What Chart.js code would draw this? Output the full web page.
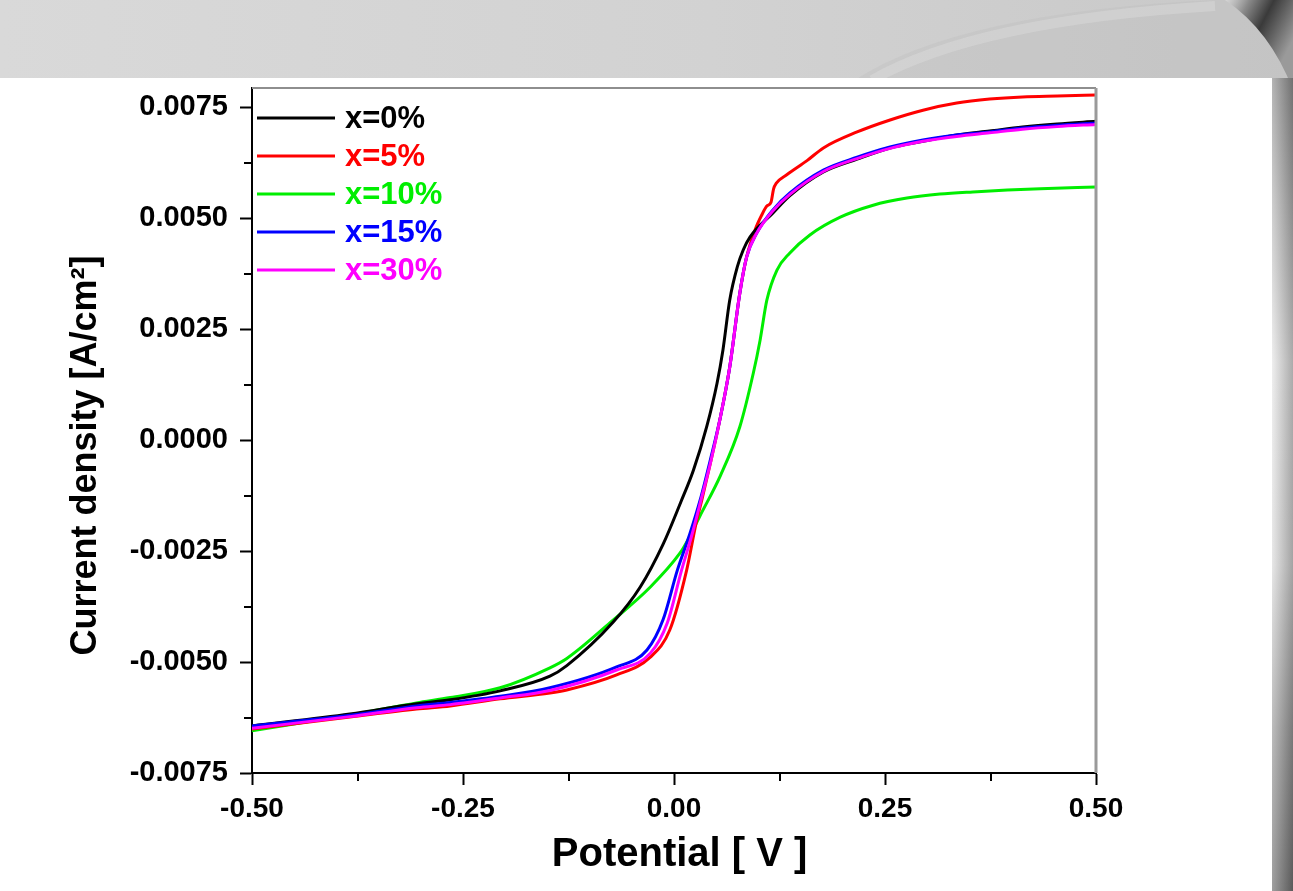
<!DOCTYPE html>
<html>
<head>
<meta charset="utf-8">
<script src="https://cdn.jsdelivr.net/npm/chart.js@4.4.1/dist/chart.umd.min.js"></script>
<style>
  html, body { margin: 0; padding: 0; background: #ffffff; overflow: hidden; }
  canvas { display: block; }
</style>
</head>
<body>
<canvas id="polarization" width="1293" height="891"></canvas>
<script>
// Linear sweep curves: potential (V) vs current density (A/cm^2)
const seriesNames  = ['x=0%', 'x=5%', 'x=10%', 'x=15%', 'x=30%'];
const seriesColors = ['#000000', '#ff0000', '#00ee00', '#0000ff', '#ff00ff'];

const potential0 = [-0.5, -0.384, -0.305, -0.265, -0.206, -0.147, -0.127, -0.072, -0.040, -0.013, 0.008, 0.023, 0.039, 0.051, 0.058, 0.066, 0.075, 0.082, 0.090, 0.117, 0.137, 0.177, 0.217, 0.256, 0.295, 0.335, 0.374, 0.413, 0.454, 0.5];
const current0   = [-0.00644, -0.00617, -0.00594, -0.00585, -0.00565, -0.00532, -0.00508, -0.00410, -0.00331, -0.00235, -0.00140, -0.00068, 0.00032, 0.00128, 0.00203, 0.00315, 0.00390, 0.00428, 0.00457, 0.00511, 0.00550, 0.00604, 0.00633, 0.00658, 0.00673, 0.00687, 0.00696, 0.00705, 0.00712, 0.00718];

const potential5 = [-0.5, -0.384, -0.305, -0.265, -0.206, -0.147, -0.127, -0.068, -0.028, -0.005, 0.015, 0.027, 0.033, 0.044, 0.055, 0.066, 0.078, 0.086, 0.096, 0.104, 0.110, 0.115, 0.118, 0.121, 0.134, 0.158, 0.177, 0.217, 0.256, 0.295, 0.335, 0.374, 0.413, 0.454, 0.5];
const current5   = [-0.00651, -0.00624, -0.00606, -0.00599, -0.00583, -0.00570, -0.00563, -0.00529, -0.00489, -0.00428, -0.00293, -0.00180, -0.00135, -0.00045, 0.00052, 0.00164, 0.00331, 0.00412, 0.00473, 0.00507, 0.00527, 0.00536, 0.00566, 0.00578, 0.00598, 0.00630, 0.00658, 0.00694, 0.00721, 0.00743, 0.00759, 0.00768, 0.00773, 0.00775, 0.00777];

const potential10 = [-0.5, -0.384, -0.305, -0.265, -0.206, -0.147, -0.127, -0.076, -0.028, 0.007, 0.015, 0.031, 0.055, 0.078, 0.094, 0.102, 0.110, 0.122, 0.137, 0.161, 0.197, 0.236, 0.276, 0.315, 0.354, 0.395, 0.434, 0.5];
const current10   = [-0.00655, -0.00619, -0.00592, -0.00580, -0.00558, -0.00513, -0.00492, -0.00412, -0.00331, -0.00255, -0.00230, -0.00170, -0.00080, 0.00030, 0.00151, 0.00225, 0.00315, 0.00383, 0.00421, 0.00462, 0.00502, 0.00529, 0.00545, 0.00554, 0.00559, 0.00563, 0.00566, 0.00570];

const potential15 = [-0.5, -0.384, -0.305, -0.265, -0.206, -0.147, -0.068, -0.032, -0.013, 0.004, 0.019, 0.031, 0.043, 0.055, 0.066, 0.078, 0.086, 0.098, 0.117, 0.137, 0.177, 0.217, 0.256, 0.295, 0.335, 0.374, 0.413, 0.454, 0.5];
const current15   = [-0.00644, -0.00620, -0.00599, -0.00591, -0.00577, -0.00558, -0.00511, -0.00473, -0.00405, -0.00293, -0.00210, -0.00135, -0.00045, 0.00052, 0.00164, 0.00331, 0.00412, 0.00466, 0.00518, 0.00556, 0.00608, 0.00637, 0.00660, 0.00676, 0.00687, 0.00694, 0.00703, 0.00709, 0.00714];

const potential30 = [-0.5, -0.384, -0.305, -0.265, -0.206, -0.147, -0.068, -0.028, -0.008, 0.009, 0.021, 0.032, 0.044, 0.055, 0.066, 0.078, 0.086, 0.098, 0.117, 0.137, 0.177, 0.217, 0.256, 0.295, 0.335, 0.374, 0.413, 0.454, 0.5];
const current30   = [-0.00649, -0.00623, -0.00603, -0.00596, -0.00581, -0.00564, -0.00518, -0.00480, -0.00412, -0.00293, -0.00215, -0.00135, -0.00045, 0.00052, 0.00164, 0.00331, 0.00412, 0.00466, 0.00516, 0.00553, 0.00605, 0.00634, 0.00657, 0.00673, 0.00684, 0.00692, 0.00700, 0.00706, 0.00711];

const xTickValues = [-0.5, -0.25, 0, 0.25, 0.5];
const xTickLabels = ['-0.50', '-0.25', '0.00', '0.25', '0.50'];
const yTickValues = [-0.0075, -0.005, -0.0025, 0, 0.0025, 0.005, 0.0075];
const yTickLabels = ['-0.0075', '-0.0050', '-0.0025', '0.0000', '0.0025', '0.0050', '0.0075'];

const potentials = [potential0, potential5, potential10, potential15, potential30];
const currents   = [current0, current5, current10, current15, current30];
// stacking: lower number is painted on top
const stackOrder = [2, 3, 4, 1, 0];

const FONT = "'Liberation Sans', Arial, Helvetica, sans-serif";

const datasets = seriesNames.map((name, i) => ({
  label: name,
  data: potentials[i].map((v, k) => ({ x: v, y: currents[i][k] })),
  borderColor: seriesColors[i],
  backgroundColor: seriesColors[i],
  borderWidth: 3,
  pointRadius: 0,
  fill: false,
  cubicInterpolationMode: 'monotone',
  order: stackOrder[i]
}));

// grey slide backdrop with a white panel behind the plot
const backdrop = {
  id: 'backdrop',
  beforeDraw(chart) {
    const ctx = chart.ctx, W = chart.width, H = chart.height;
    ctx.save();
    let g = ctx.createLinearGradient(0, 0, W, 0);
    g.addColorStop(0, '#d9d9d9');
    g.addColorStop(0.55, '#d2d2d2');
    g.addColorStop(1, '#c8c8c8');
    ctx.fillStyle = g;
    ctx.fillRect(0, 0, W, H);

    // faint swirl in the header band
    ctx.fillStyle = 'rgba(190,190,190,0.35)';
    ctx.beginPath();
    ctx.moveTo(855, 80);
    ctx.quadraticCurveTo(960, 12, 1215, 0);
    ctx.lineTo(W, 0);
    ctx.lineTo(W, 80);
    ctx.closePath();
    ctx.fill();
    ctx.strokeStyle = 'rgba(225,225,225,0.35)';
    ctx.lineWidth = 10;
    ctx.beginPath();
    ctx.moveTo(872, 80);
    ctx.quadraticCurveTo(978, 20, 1215, 6);
    ctx.stroke();

    // dark sweep in the top-right corner
    g = ctx.createLinearGradient(1215, 0, 1293, 40);
    g.addColorStop(0, 'rgba(255,255,255,0.6)');
    g.addColorStop(0.35, '#8a8a8a');
    g.addColorStop(0.6, '#3a3a3a');
    g.addColorStop(1, '#9a9a9a');
    ctx.fillStyle = g;
    ctx.beginPath();
    ctx.moveTo(1225, 0);
    ctx.lineTo(W, 0);
    ctx.lineTo(W, 90);
    ctx.quadraticCurveTo(1270, 30, 1225, 0);
    ctx.closePath();
    ctx.fill();

    // right edge strip
    g = ctx.createLinearGradient(0, 78, 0, H);
    g.addColorStop(0, '#8c8c8c');
    g.addColorStop(0.15, '#b4b4b4');
    g.addColorStop(0.35, '#e6e6e6');
    g.addColorStop(0.6, '#dadada');
    g.addColorStop(0.8, '#9a9a9a');
    g.addColorStop(1, '#6a6a6a');
    ctx.fillStyle = g;
    ctx.fillRect(1272, 78, W - 1272, H - 78);
    g = ctx.createLinearGradient(1272, 0, W, 0);
    g.addColorStop(0, 'rgba(255,255,255,0.35)');
    g.addColorStop(1, 'rgba(60,60,60,0.35)');
    ctx.fillStyle = g;
    ctx.fillRect(1272, 78, W - 1272, H - 78);

    // white panel
    ctx.fillStyle = '#ffffff';
    ctx.fillRect(0, 78, 1272, H - 78);
    ctx.restore();
  }
};

// frame: grey top and right edges, plus minor ticks between the labelled ones
const frame = {
  id: 'frame',
  afterDraw(chart) {
    const ctx = chart.ctx;
    const { left, right, top, bottom } = chart.chartArea;
    const xs = chart.scales.x, ys = chart.scales.y;
    ctx.save();
    ctx.strokeStyle = '#8e8e8e';
    ctx.lineWidth = 2;
    ctx.beginPath();
    ctx.moveTo(left, top);
    ctx.lineTo(right, top);
    ctx.stroke();
    ctx.strokeStyle = '#9a9a9a';
    ctx.lineWidth = 3;
    ctx.beginPath();
    ctx.moveTo(right, top);
    ctx.lineTo(right, bottom);
    ctx.stroke();

    ctx.strokeStyle = '#000000';
    ctx.lineWidth = 2;
    ctx.beginPath();
    for (let i = 0; i < xTickValues.length - 1; i++) {
      const px = Math.round(xs.getPixelForValue((xTickValues[i] + xTickValues[i + 1]) / 2));
      ctx.moveTo(px, bottom);
      ctx.lineTo(px, bottom + 8);
    }
    for (let i = 0; i < yTickValues.length - 1; i++) {
      const py = Math.round(ys.getPixelForValue((yTickValues[i] + yTickValues[i + 1]) / 2));
      ctx.moveTo(left, py);
      ctx.lineTo(left - 8, py);
    }
    ctx.stroke();
    ctx.restore();
  }
};

// legend drawn inside the plot, text coloured like its line
const insetLegend = {
  id: 'insetLegend',
  afterDraw(chart) {
    const ctx = chart.ctx;
    const { left, top } = chart.chartArea;
    ctx.save();
    ctx.font = `bold 31px ${FONT}`;
    ctx.textBaseline = 'middle';
    ctx.textAlign = 'left';
    chart.data.datasets.forEach((ds, i) => {
      const y = top + 30 + i * 38;
      ctx.strokeStyle = ds.borderColor;
      ctx.lineWidth = 3;
      ctx.beginPath();
      ctx.moveTo(left + 5, y);
      ctx.lineTo(left + 83, y);
      ctx.stroke();
      ctx.fillStyle = ds.borderColor;
      ctx.fillText(ds.label, left + 93, y + 1);
    });
    ctx.restore();
  }
};

new Chart(document.getElementById('polarization'), {
  type: 'line',
  data: { datasets },
  plugins: [backdrop, frame, insetLegend],
  options: {
    responsive: false,
    animation: false,
    devicePixelRatio: 1,
    layout: { padding: { left: 0, top: 88, right: 197, bottom: 0 }, autoPadding: false },
    plugins: { legend: { display: false }, tooltip: { enabled: false } },
    scales: {
      x: {
        type: 'linear',
        min: -0.5,
        max: 0.5,
        afterBuildTicks: s => { s.ticks = xTickValues.map(v => ({ value: v })); },
        afterFit: s => { s.height = 118; },
        grid: { drawOnChartArea: false, drawTicks: true, tickLength: 12, tickWidth: 2, tickColor: '#000000' },
        border: { display: true, color: '#000000', width: 2 },
        ticks: {
          color: '#000000', padding: 7, maxRotation: 0, autoSkip: false,
          font: { family: FONT, size: 28, weight: 'bold' },
          callback: (v, i) => xTickLabels[i]
        },
        title: {
          display: true, text: ' Potential [ V ]', color: '#000000',
          font: { family: FONT, size: 40, weight: 'bold' },
          padding: { top: 0, bottom: 12 }
        }
      },
      y: {
        type: 'linear',
        min: -0.0075,
        max: 0.00793,
        afterBuildTicks: s => { s.ticks = yTickValues.map(v => ({ value: v })); },
        afterFit: s => { s.width = 252; },
        grid: { drawOnChartArea: false, drawTicks: true, tickLength: 12, tickWidth: 2, tickColor: '#000000' },
        border: { display: true, color: '#000000', width: 2 },
        ticks: {
          color: '#000000', padding: 12, autoSkip: false,
          font: { family: FONT, size: 29, weight: 'bold' },
          callback: (v, i) => yTickLabels[i]
        },
        title: {
          display: true, text: 'Current density [A/cm\u00B2]     ', color: '#000000',
          font: { family: FONT, size: 36, weight: 'bold' },
          padding: { top: 64, bottom: 0 }
        }
      }
    }
  }
});
</script>
</body>
</html>
